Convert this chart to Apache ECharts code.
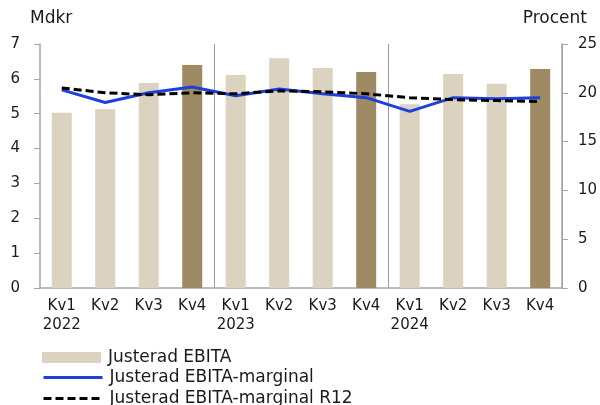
<!DOCTYPE html>
<html>
<head>
<meta charset="utf-8">
<script src="https://cdn.jsdelivr.net/npm/echarts@6/dist/echarts.min.js"></script>
<style>
html,body{margin:0;padding:0;background:#fff;}
#chart{width:600px;height:405px;}
</style>
</head>
<body>
<div id="chart"></div>
<script>
// Quarters and years shown on the category axis
const quarters = ['Kv1','Kv2','Kv3','Kv4','Kv1','Kv2','Kv3','Kv4','Kv1','Kv2','Kv3','Kv4'];
const years = ['2022','','','','2023','','','','2024','','',''];

// Justerad EBITA, Mdkr
const ebita = [5.03, 5.13, 5.88, 6.40, 6.11, 6.59, 6.31, 6.20, 5.27, 6.14, 5.86, 6.28];
// Justerad EBITA-marginal, procent
const margin = [20.3, 19.0, 20.0, 20.6, 19.7, 20.4, 19.9, 19.5, 18.1, 19.5, 19.4, 19.5];
// Justerad EBITA-marginal R12, procent
const marginR12 = [20.5, 20.0, 19.8, 20.0, 19.9, 20.2, 20.1, 19.9, 19.5, 19.3, 19.2, 19.1];

const leftTicks = {min: 0, max: 7, interval: 1};
const rightTicks = {min: 0, max: 25, interval: 5};

const categories = quarters.map((q, i) => years[i] ? q + '\n' + years[i] : q);
const lightBar = '#dbd2bf';
const darkBar = '#9e8a63';
const blue = '#1f3fdc';
const font = 'DejaVu Sans, Verdana, sans-serif';
const textColor = '#1a1a1a';
const axisGrey = '#a6a6a6';
const hidden = 'rgba(0,0,0,0)';

// One legend block per row keeps the rows stacked in a single column
const legendRow = (top, item) => ({
  orient: 'vertical',
  left: 42,
  top: top,
  padding: 0,
  itemWidth: 59,
  itemHeight: 11,
  textStyle: {fontFamily: font, fontSize: 17, color: textColor, lineHeight: 17, padding: [0, 0, 0, 2]},
  data: [item]
});

// Line rows show only the stroke, no marker
const lineItem = (name) => ({
  name: name,
  itemStyle: {color: hidden, borderColor: hidden, opacity: 0},
  lineStyle: {width: 3}
});

const chart = echarts.init(document.getElementById('chart'), null, {renderer: 'canvas'});
chart.setOption({
  animation: false,
  textStyle: {fontFamily: font},
  grid: {left: 40, right: 38, top: 44, bottom: 117},
  legend: [
    legendRow(349, {name: 'Justerad EBITA', icon: 'rect', itemStyle: {color: lightBar}}),
    legendRow(369, lineItem('Justerad EBITA-marginal')),
    legendRow(390, lineItem('Justerad EBITA-marginal R12'))
  ],
  xAxis: {
    type: 'category',
    data: categories,
    boundaryGap: true,
    axisLine: {lineStyle: {color: axisGrey, width: 1.5}},
    axisTick: {show: false},
    axisLabel: {fontFamily: font, fontSize: 15, color: textColor, lineHeight: 19, margin: 9, interval: 0},
    splitLine: {
      show: true,
      interval: (index) => index === 4 || index === 8,
      lineStyle: {color: '#9a9a9a', width: 1}
    }
  },
  yAxis: [
    {
      type: 'value',
      ...leftTicks,
      name: 'Mdkr',
      nameLocation: 'end',
      nameGap: 17,
      nameTextStyle: {fontFamily: font, fontSize: 17, color: textColor, align: 'left', padding: [0, 0, 0, -10]},
      axisLine: {show: true, lineStyle: {color: axisGrey, width: 1.5}},
      axisTick: {show: true, length: 6, lineStyle: {color: axisGrey}},
      axisLabel: {fontFamily: font, fontSize: 15, color: textColor, margin: 20},
      splitLine: {show: false}
    },
    {
      type: 'value',
      ...rightTicks,
      name: 'Procent',
      nameLocation: 'end',
      nameGap: 17,
      nameTextStyle: {fontFamily: font, fontSize: 17, color: textColor, align: 'right', padding: [0, -25, 0, 0]},
      axisLine: {show: true, lineStyle: {color: axisGrey, width: 1.5}},
      axisTick: {show: true, length: 6, lineStyle: {color: axisGrey}},
      axisLabel: {fontFamily: font, fontSize: 15, color: textColor, margin: 16},
      splitLine: {show: false}
    }
  ],
  series: [
    {
      name: 'Justerad EBITA',
      type: 'bar',
      yAxisIndex: 0,
      barWidth: 20,
      itemStyle: {color: lightBar},
      data: ebita.map((v, i) => ({
        value: v,
        itemStyle: {color: quarters[i] === 'Kv4' ? darkBar : lightBar}
      }))
    },
    {
      name: 'Justerad EBITA-marginal',
      type: 'line',
      yAxisIndex: 1,
      symbol: 'none',
      lineStyle: {color: blue, width: 3},
      itemStyle: {color: blue},
      data: margin
    },
    {
      name: 'Justerad EBITA-marginal R12',
      type: 'line',
      yAxisIndex: 1,
      symbol: 'none',
      lineStyle: {color: '#000', width: 3, type: [8, 4]},
      itemStyle: {color: '#000'},
      data: marginR12
    }
  ]
});
</script>
</body>
</html>
